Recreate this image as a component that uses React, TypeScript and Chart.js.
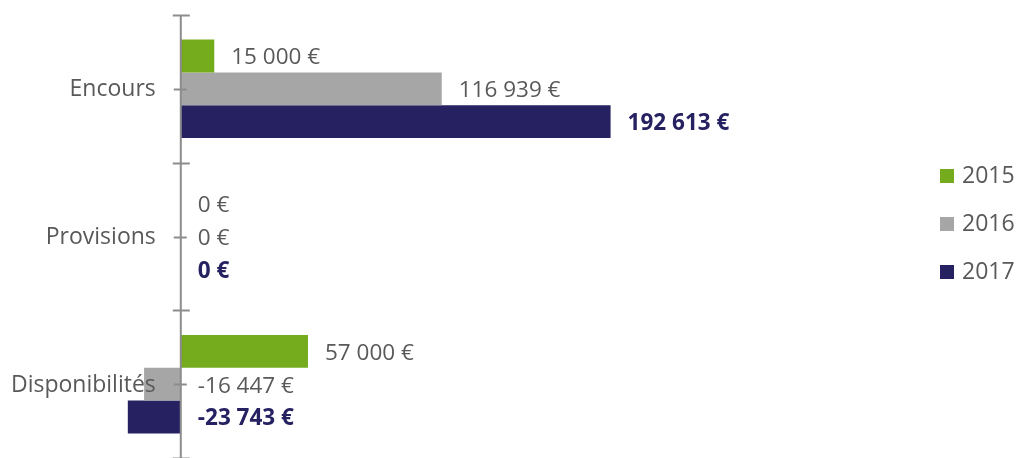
import { useEffect, useRef } from 'react';
import { Chart, registerables } from 'chart.js';

Chart.register(...registerables);

const categories = ['Encours', 'Provisions', 'Disponibilités'];
const seriesLabels = ['2015', '2016', '2017'];
const values2015 = [15000, 0, 57000];
const values2016 = [116939, 0, -16447];
const values2017 = [192613, 0, -23743];
const seriesColors = ['#74AC1E', '#A6A6A6', '#262262'];
const xMin = -25000;
const xMax = 325000;

const FONT = '"Open Sans", "DejaVu Sans", sans-serif';
const TEXT_GREY = '#595959';

const fmt = (v: number) => {
  const s = Math.abs(v).toString().replace(/\B(?=(\d{3})+(?!\d))/g, ' ');
  return (v < 0 ? '-' : '') + s + ' €';
};

const overlayPlugin = {
  id: 'overlay',
  afterDatasetsDraw(chart: any) {
    const { ctx, chartArea } = chart;
    const xs = chart.scales.x;
    const ys = chart.scales.y;
    const x0 = xs.getPixelForValue(0);
    ctx.save();
    // axis line
    ctx.strokeStyle = '#8C8C8C';
    ctx.lineWidth = 2;
    ctx.beginPath();
    ctx.moveTo(x0, chartArea.top);
    ctx.lineTo(x0, chart.height);
    ctx.stroke();
    // tick marks
    const n = categories.length;
    for (let i = 0; i <= n; i++) {
      const y = Math.round(ys.getPixelForValue(i - 0.5)) + 0.5;
      ctx.beginPath();
      ctx.moveTo(x0 - 8, y);
      ctx.lineTo(x0 + 9, y);
      ctx.stroke();
    }
    for (let i = 0; i < n; i++) {
      const y = Math.round(ys.getPixelForValue(i)) + 0.5;
      ctx.beginPath();
      ctx.moveTo(x0 - 7, y);
      ctx.lineTo(x0 + 6, y);
      ctx.stroke();
    }
    // category labels
    ctx.fillStyle = TEXT_GREY;
    ctx.font = `23px ${FONT}`;
    ctx.textAlign = 'right';
    ctx.textBaseline = 'middle';
    categories.forEach((c, i) => {
      ctx.fillText(c, x0 - 25, ys.getPixelForValue(i) + 1);
    });
    // data labels
    chart.data.datasets.forEach((ds: any, di: number) => {
      const meta = chart.getDatasetMeta(di);
      const bold = di === 2;
      ctx.font = `${bold ? 'bold ' : ''}22.5px ${FONT}`;
      ctx.fillStyle = bold ? seriesColors[2] : TEXT_GREY;
      ctx.textAlign = 'left';
      meta.data.forEach((el: any, i: number) => {
        const v = ds.data[i];
        const xEnd = Math.max(el.x, x0);
        ctx.fillText(fmt(v), xEnd + 17, el.y + 2);
      });
    });
    // legend
    ctx.font = `23px ${FONT}`;
    const lx = chart.width - 80;
    const cy = chart.height / 2 - 5;
    chart.data.datasets.forEach((ds: any, di: number) => {
      const y = cy + (di - 1) * 48;
      ctx.fillStyle = ds.backgroundColor;
      ctx.fillRect(lx, y - 7, 14, 14);
      ctx.fillStyle = TEXT_GREY;
      ctx.textAlign = 'left';
      ctx.fillText(ds.label, lx + 22, y);
    });
    ctx.restore();
  },
};

export default function App() {
  const ref = useRef<HTMLCanvasElement | null>(null);
  useEffect(() => {
    if (!ref.current) return;
    const chart = new Chart(ref.current, {
      type: 'bar',
      data: {
        labels: categories,
        datasets: [
          { label: seriesLabels[0], data: values2015, backgroundColor: seriesColors[0] },
          { label: seriesLabels[1], data: values2016, backgroundColor: seriesColors[1] },
          { label: seriesLabels[2], data: values2017, backgroundColor: seriesColors[2] },
        ],
      },
      options: {
        indexAxis: 'y',
        responsive: false,
        animation: false,
        devicePixelRatio: 1,
        layout: { padding: { left: 125, right: 114, top: 15, bottom: -2 } },
        datasets: { bar: { categoryPercentage: 0.667, barPercentage: 1, borderWidth: 0 } },
        scales: {
          x: { display: false, min: xMin, max: xMax },
          y: { display: false },
        },
        plugins: { legend: { display: false }, tooltip: { enabled: false } },
      },
      plugins: [overlayPlugin],
    });
    return () => chart.destroy();
  }, []);
  return (
    <div style={{ position: 'absolute', left: 0, top: 0, width: 1020, height: 458, background: '#fff' }}>
      <canvas ref={ref} width={1020} height={458} />
    </div>
  );
}
